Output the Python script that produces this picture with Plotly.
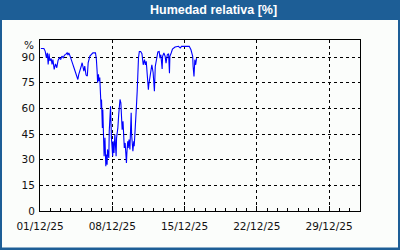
import plotly.graph_objects as go

times = [
    "2025-12-01 02:00", "2025-12-01 09:00", "2025-12-01 12:00", "2025-12-01 15:00", "2025-12-01 17:00",
    "2025-12-01 19:00", "2025-12-01 21:00", "2025-12-01 23:00", "2025-12-02 02:00", "2025-12-02 04:00",
    "2025-12-02 06:00", "2025-12-02 09:00", "2025-12-02 12:00", "2025-12-02 15:00", "2025-12-02 18:00",
    "2025-12-02 21:00", "2025-12-03 00:00", "2025-12-03 03:00", "2025-12-03 06:00", "2025-12-03 09:00",
    "2025-12-03 12:00", "2025-12-03 15:00", "2025-12-03 17:00", "2025-12-03 19:00", "2025-12-03 22:00",
    "2025-12-04 01:00", "2025-12-04 04:00", "2025-12-04 07:00", "2025-12-04 10:00", "2025-12-04 13:00",
    "2025-12-04 16:00", "2025-12-04 18:00", "2025-12-04 21:00", "2025-12-05 00:00", "2025-12-05 02:00",
    "2025-12-05 06:00", "2025-12-05 08:00", "2025-12-05 11:00", "2025-12-05 14:00", "2025-12-05 16:00",
    "2025-12-05 20:00", "2025-12-05 23:00", "2025-12-06 03:00", "2025-12-06 09:00", "2025-12-06 11:00",
    "2025-12-06 13:00", "2025-12-06 14:00", "2025-12-06 16:00", "2025-12-06 17:00", "2025-12-06 19:00",
    "2025-12-06 20:00", "2025-12-06 22:00", "2025-12-06 23:00", "2025-12-07 01:00", "2025-12-07 02:00",
    "2025-12-07 04:00", "2025-12-07 05:00", "2025-12-07 07:00", "2025-12-07 09:00", "2025-12-07 10:00",
    "2025-12-07 12:00", "2025-12-07 13:00", "2025-12-07 16:00", "2025-12-07 17:00", "2025-12-07 19:00",
    "2025-12-07 20:00", "2025-12-07 22:00", "2025-12-07 23:00", "2025-12-08 01:00", "2025-12-08 02:00",
    "2025-12-08 04:00", "2025-12-08 06:00", "2025-12-08 07:00", "2025-12-08 09:00", "2025-12-08 10:00",
    "2025-12-08 13:00", "2025-12-08 15:00", "2025-12-08 16:00", "2025-12-08 18:00", "2025-12-08 20:00",
    "2025-12-08 22:00", "2025-12-08 23:00", "2025-12-09 01:00", "2025-12-09 03:00", "2025-12-09 04:00",
    "2025-12-09 06:00", "2025-12-09 07:00", "2025-12-09 09:00", "2025-12-09 10:00", "2025-12-09 12:00",
    "2025-12-09 13:00", "2025-12-09 15:00", "2025-12-09 17:00", "2025-12-09 18:00", "2025-12-09 20:00",
    "2025-12-09 21:00", "2025-12-09 23:00", "2025-12-10 00:00", "2025-12-10 02:00", "2025-12-10 03:00",
    "2025-12-10 05:00", "2025-12-10 07:00", "2025-12-10 08:00", "2025-12-10 10:00", "2025-12-10 11:00",
    "2025-12-10 13:00", "2025-12-10 15:00", "2025-12-10 18:00", "2025-12-10 21:00", "2025-12-11 00:00",
    "2025-12-11 03:00", "2025-12-11 05:00", "2025-12-11 07:00", "2025-12-11 10:00", "2025-12-11 12:00",
    "2025-12-11 13:00", "2025-12-11 16:00", "2025-12-11 18:00", "2025-12-11 20:00", "2025-12-11 23:00",
    "2025-12-12 02:00", "2025-12-12 04:00", "2025-12-12 07:00", "2025-12-12 10:00", "2025-12-12 13:00",
    "2025-12-12 15:00", "2025-12-12 17:00", "2025-12-12 20:00", "2025-12-12 21:00", "2025-12-13 00:00",
    "2025-12-13 03:00", "2025-12-13 05:00", "2025-12-13 08:00", "2025-12-13 11:00", "2025-12-13 13:00",
    "2025-12-13 14:00", "2025-12-13 17:00", "2025-12-13 20:00", "2025-12-14 02:00", "2025-12-14 10:00",
    "2025-12-14 14:00", "2025-12-14 17:00", "2025-12-15 01:00", "2025-12-15 11:00", "2025-12-15 15:00",
    "2025-12-15 17:00", "2025-12-15 19:00", "2025-12-15 20:00", "2025-12-15 22:00", "2025-12-16 00:00",
    "2025-12-16 02:00", "2025-12-16 04:00",
]

humidity = [
    95, 95, 93.5, 89.6, 92.5,
    85.7, 92, 87.7, 89.2, 85.7,
    88.6, 82.8, 86, 83.8, 88,
    89.6, 88.6, 90.6, 89.6, 91.2,
    91.6, 92.5, 91.2, 92.5, 90.6,
    87.7, 86, 83.8, 81.8, 78.9,
    76.9, 79.8, 81.8, 84.8, 86.7,
    81.8, 84.8, 79.5, 78.9, 86.7,
    90.6, 91.6, 92.5, 92.5, 89,
    80.8, 75, 80, 76, 78,
    67, 60.3, 65.2, 48.6, 59.3,
    44.7, 32, 42.8, 26.2, 33,
    27.1, 36, 31, 46.7, 54.5,
    61.3, 42.8, 35, 32, 40.8,
    34, 44.7, 38.8, 32, 42.8,
    48.6, 56.4, 62.3, 65.2, 63.3,
    54.5, 47.6, 52.5, 42.8, 36.9,
    39.8, 34, 28.1, 34, 40.8,
    36.9, 41.8, 36, 46.7, 57.4,
    44.7, 38.8, 35, 40.8, 37.9,
    46.7, 52.5, 60.3, 70.1, 81.8,
    89.6, 93.3, 93.3, 92, 85.5,
    88.5, 85.5, 87.5, 78.7, 70.9,
    74, 78.7, 84.5, 85.5, 81,
    70, 84.5, 88.5, 93, 93.3,
    89.4, 91.4, 83, 90.4, 92.4,
    90.4, 86.5, 91.4, 92, 80.6,
    90.4, 92.4, 94.7, 95.9, 96.3,
    95.3, 96.3, 96.3, 96.3, 94.3,
    91.4, 90.4, 84.5, 78.7, 88.5,
    85.5, 89.4,
]

y_ticks = [0, 15, 30, 45, 60, 75, 90]
title_text = "Humedad relativa [%]"
unit_label = "%"

BLUE = "#1d5e96"
INNER = "#fbfdfb"

fig = go.Figure()
fig.add_trace(go.Scatter(x=times, y=humidity, mode="lines",
                         line=dict(color="#0000ff", width=1.1), hoverinfo="skip"))

W, H = 400, 250
L, R, T, B = 40, 40, 40, 39
pw, ph = W - L - R, H - T - B


def px(xp):
    return (xp - L) / pw


def py(yp):
    return (H - B - yp) / ph


fig.update_layout(
    width=W, height=H,
    margin=dict(l=L, r=R, t=T, b=B),
    paper_bgcolor=BLUE,
    plot_bgcolor=INNER,
    showlegend=False,
    font=dict(family="DejaVu Sans", size=10.5, color="#111111"),
    shapes=[
        dict(type="rect", xref="paper", yref="paper", x0=px(2), x1=px(398), y0=py(247.5), y1=py(20),
             fillcolor=INNER, line=dict(width=0), layer="below"),
    ],
    annotations=[
        dict(text="<b>" + title_text + "</b>", xref="paper", yref="paper", x=px(213), y=py(10.5),
             xanchor="center", yanchor="middle", showarrow=False,
             font=dict(family="Liberation Sans", size=12.5, color="white")),
        dict(text=unit_label, xref="paper", yref="paper", x=px(36), y=py(45),
             xanchor="right", yanchor="middle", showarrow=False,
             font=dict(family="DejaVu Sans", size=10.5, color="#111111")),
    ],
    xaxis=dict(
        range=["2025-12-01 00:00", "2026-01-01 00:00"],
        tick0="2025-12-01", dtick=7 * 86400000, tickformat="%d/%m/%y",
        ticks="inside", ticklen=5, tickcolor="black", tickwidth=1,
        showline=True, linecolor="black", linewidth=1, mirror=True,
        showgrid=True, gridcolor="black", gridwidth=1, griddash="3px,3px",
        zeroline=False,
        minor=dict(dtick=86400000, tick0="2025-12-01", ticks="inside", ticklen=3,
                   tickcolor="black", showgrid=False),
        ticklabelstandoff=5,
        fixedrange=True,
    ),
    yaxis=dict(
        range=[0, 100], tickvals=y_ticks, ticktext=[str(v) for v in y_ticks],
        ticks="", showline=True, linecolor="black", linewidth=1, mirror=True,
        showgrid=True, gridcolor="black", gridwidth=1, griddash="3px,3px",
        zeroline=False, ticklabelstandoff=2,
        fixedrange=True,
    ),
)

fig.write_html("out.html")
